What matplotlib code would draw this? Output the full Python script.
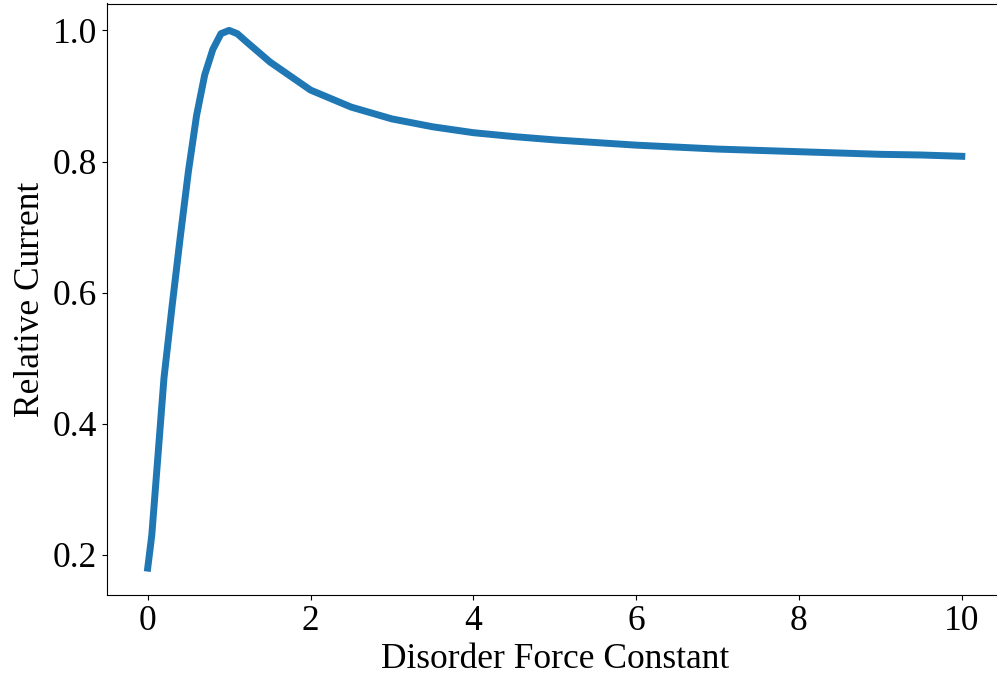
import numpy as np
import matplotlib
matplotlib.use("Agg")
import matplotlib.pyplot as plt

plt.rcParams["font.family"] = ["Liberation Serif", "DejaVu Serif"]
plt.rcParams["mathtext.fontset"] = "stix"

# disorder force constant vs relative current
force_const = [0, 0.05, 0.1, 0.2, 0.3, 0.4, 0.5, 0.6, 0.7, 0.8, 0.9, 1.0,
               1.1, 1.2, 1.5, 2.0, 2.5, 3.0, 3.5, 4.0, 4.5, 5.0, 5.5, 6.0,
               6.5, 7.0, 7.5, 8.0, 8.5, 9.0, 9.5, 10.0]
rel_current = [0.18, 0.23, 0.31, 0.47, 0.58, 0.685, 0.785, 0.87, 0.932, 0.971, 0.995, 1.0,
               0.995, 0.984, 0.952, 0.909, 0.883, 0.865, 0.853, 0.844, 0.838, 0.833, 0.829, 0.825,
               0.822, 0.819, 0.817, 0.815, 0.813, 0.811, 0.810, 0.808]

fig = plt.figure(figsize=(9.97, 6.78), dpi=100)
ax = fig.add_axes([107/997, 83/678, 895.5/997, 591.5/678])

ax.plot(force_const, rel_current, color="#1f77b4", linewidth=5)

ax.set_xlabel("Disorder Force Constant", fontsize=25.5)
ax.set_ylabel("Relative Current", fontsize=25.5)
ax.tick_params(labelsize=25.5)
ax.set_xticks([0, 2, 4, 6, 8, 10])
ax.set_yticks([0.2, 0.4, 0.6, 0.8, 1.0])

plt.savefig("out.png", dpi=100)
